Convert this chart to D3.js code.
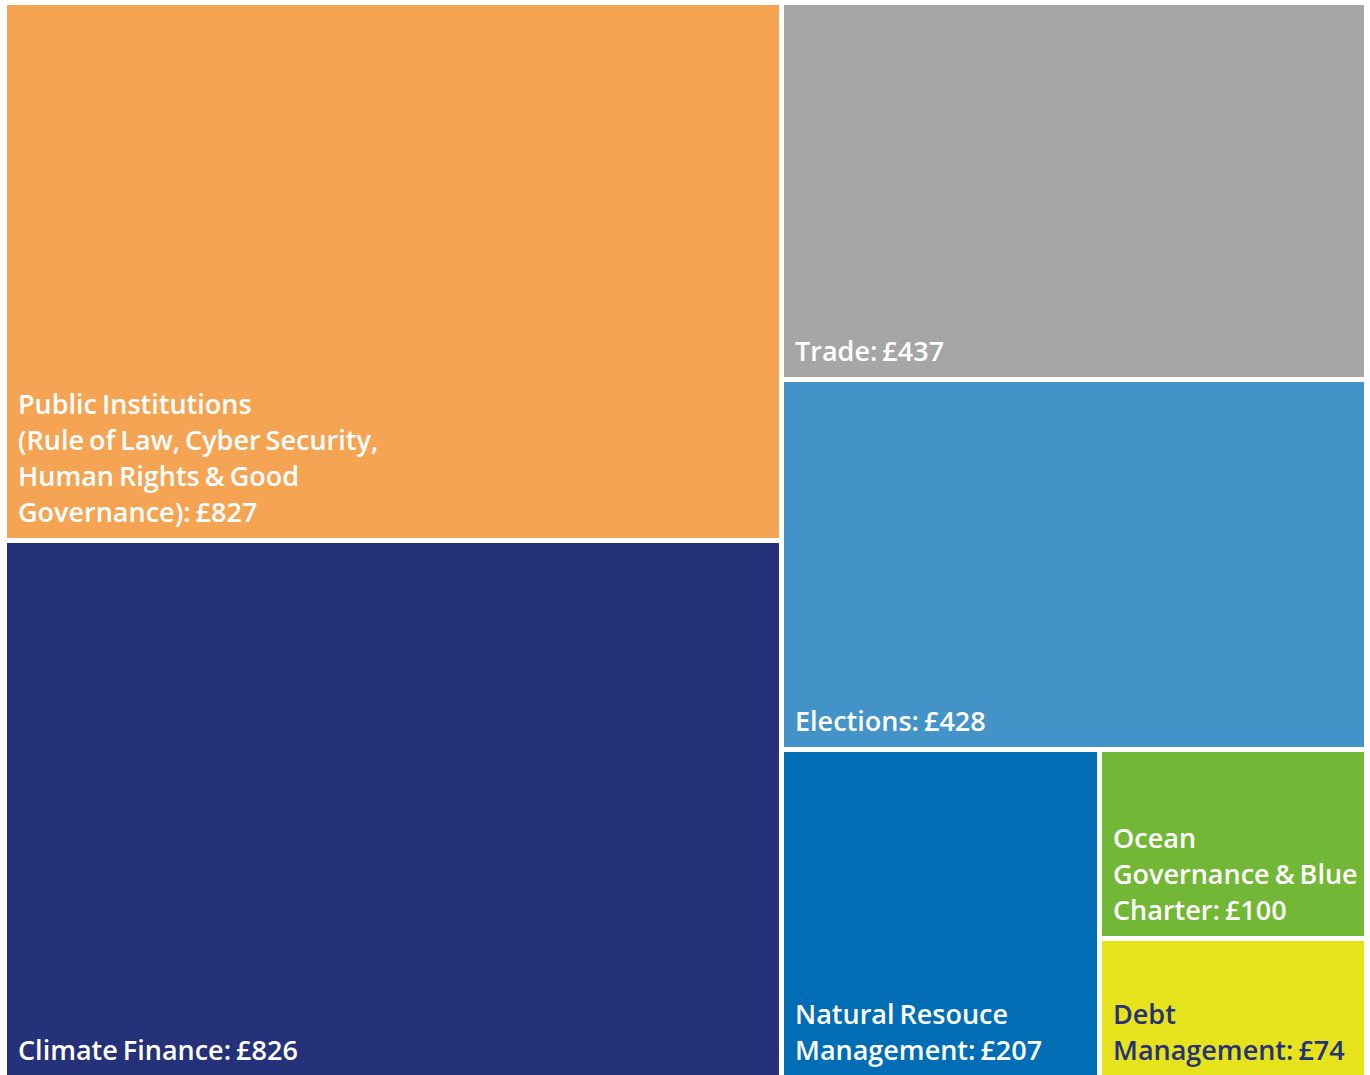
<!DOCTYPE html>
<html>
<head>
<meta charset="utf-8">
<script src="https://cdn.jsdelivr.net/npm/d3@7"></script>
<style>
  html, body { margin: 0; padding: 0; background: #fff; }
  svg { display: block; }
</style>
</head>
<body>
<svg id="chart" width="1370" height="1075"></svg>
<script>
// Funding by theme (£)
const categories = [
  'Public Institutions', 'Climate Finance', 'Trade', 'Elections',
  'Natural Resource Management', 'Ocean Governance & Blue Charter', 'Debt Management'
];
const values = [827, 826, 437, 428, 207, 100, 74];
// label lines as printed in the tiles
const labelLines = [
  ['Public Institutions', '(Rule of Law, Cyber Security,', 'Human Rights & Good', 'Governance): £827'],
  ['Climate Finance: £826'],
  ['Trade: £437'],
  ['Elections: £428'],
  ['Natural Resouce', 'Management: £207'],
  ['Ocean', 'Governance & Blue', 'Charter: £100'],
  ['Debt', 'Management: £74']
];
const fills = ['#F5A454', '#253178', '#A6A6A6', '#4393C9', '#006DB5', '#72B736', '#E6E21B'];
const textColors = ['#fff', '#fff', '#fff', '#fff', '#fff', '#fff', '#253178'];

const svg = d3.select('#chart');
const g = svg.append('g').attr('transform', 'translate(7,5)');

const root = d3.hierarchy({
  children: categories.map((c, i) => ({ name: c, value: values[i], i }))
})
  .sum(d => d.value || 0)
  .sort((a, b) => b.value - a.value);

d3.treemap()
  .tile(d3.treemapSquarify.ratio(1))
  .size([1357, 1071])
  .paddingInner(5)
  .round(true)(root);

const cell = g.selectAll('g.cell')
  .data(root.leaves())
  .join('g')
  .attr('class', 'cell')
  .attr('transform', d => `translate(${d.x0},${d.y0})`);

cell.append('rect')
  .attr('width', d => d.x1 - d.x0)
  .attr('height', d => d.y1 - d.y0)
  .attr('fill', d => fills[d.data.i]);

const lineH = 36;
cell.append('text')
  .attr('fill', d => textColors[d.data.i])
  .style('font-family', '"Open Sans", Lato, sans-serif')
  .style('font-weight', 600)
  .style('font-size', '27px')
  .style('word-spacing', '-2px')
  .selectAll('tspan')
  .data(d => {
    const lines = labelLines[d.data.i];
    const h = d.y1 - d.y0;
    return lines.map((t, k) => ({ t, y: h - 16 - (lines.length - 1 - k) * lineH }));
  })
  .join('tspan')
  .attr('x', 11)
  .attr('y', d => d.y)
  .text(d => d.t);
</script>
</body>
</html>
